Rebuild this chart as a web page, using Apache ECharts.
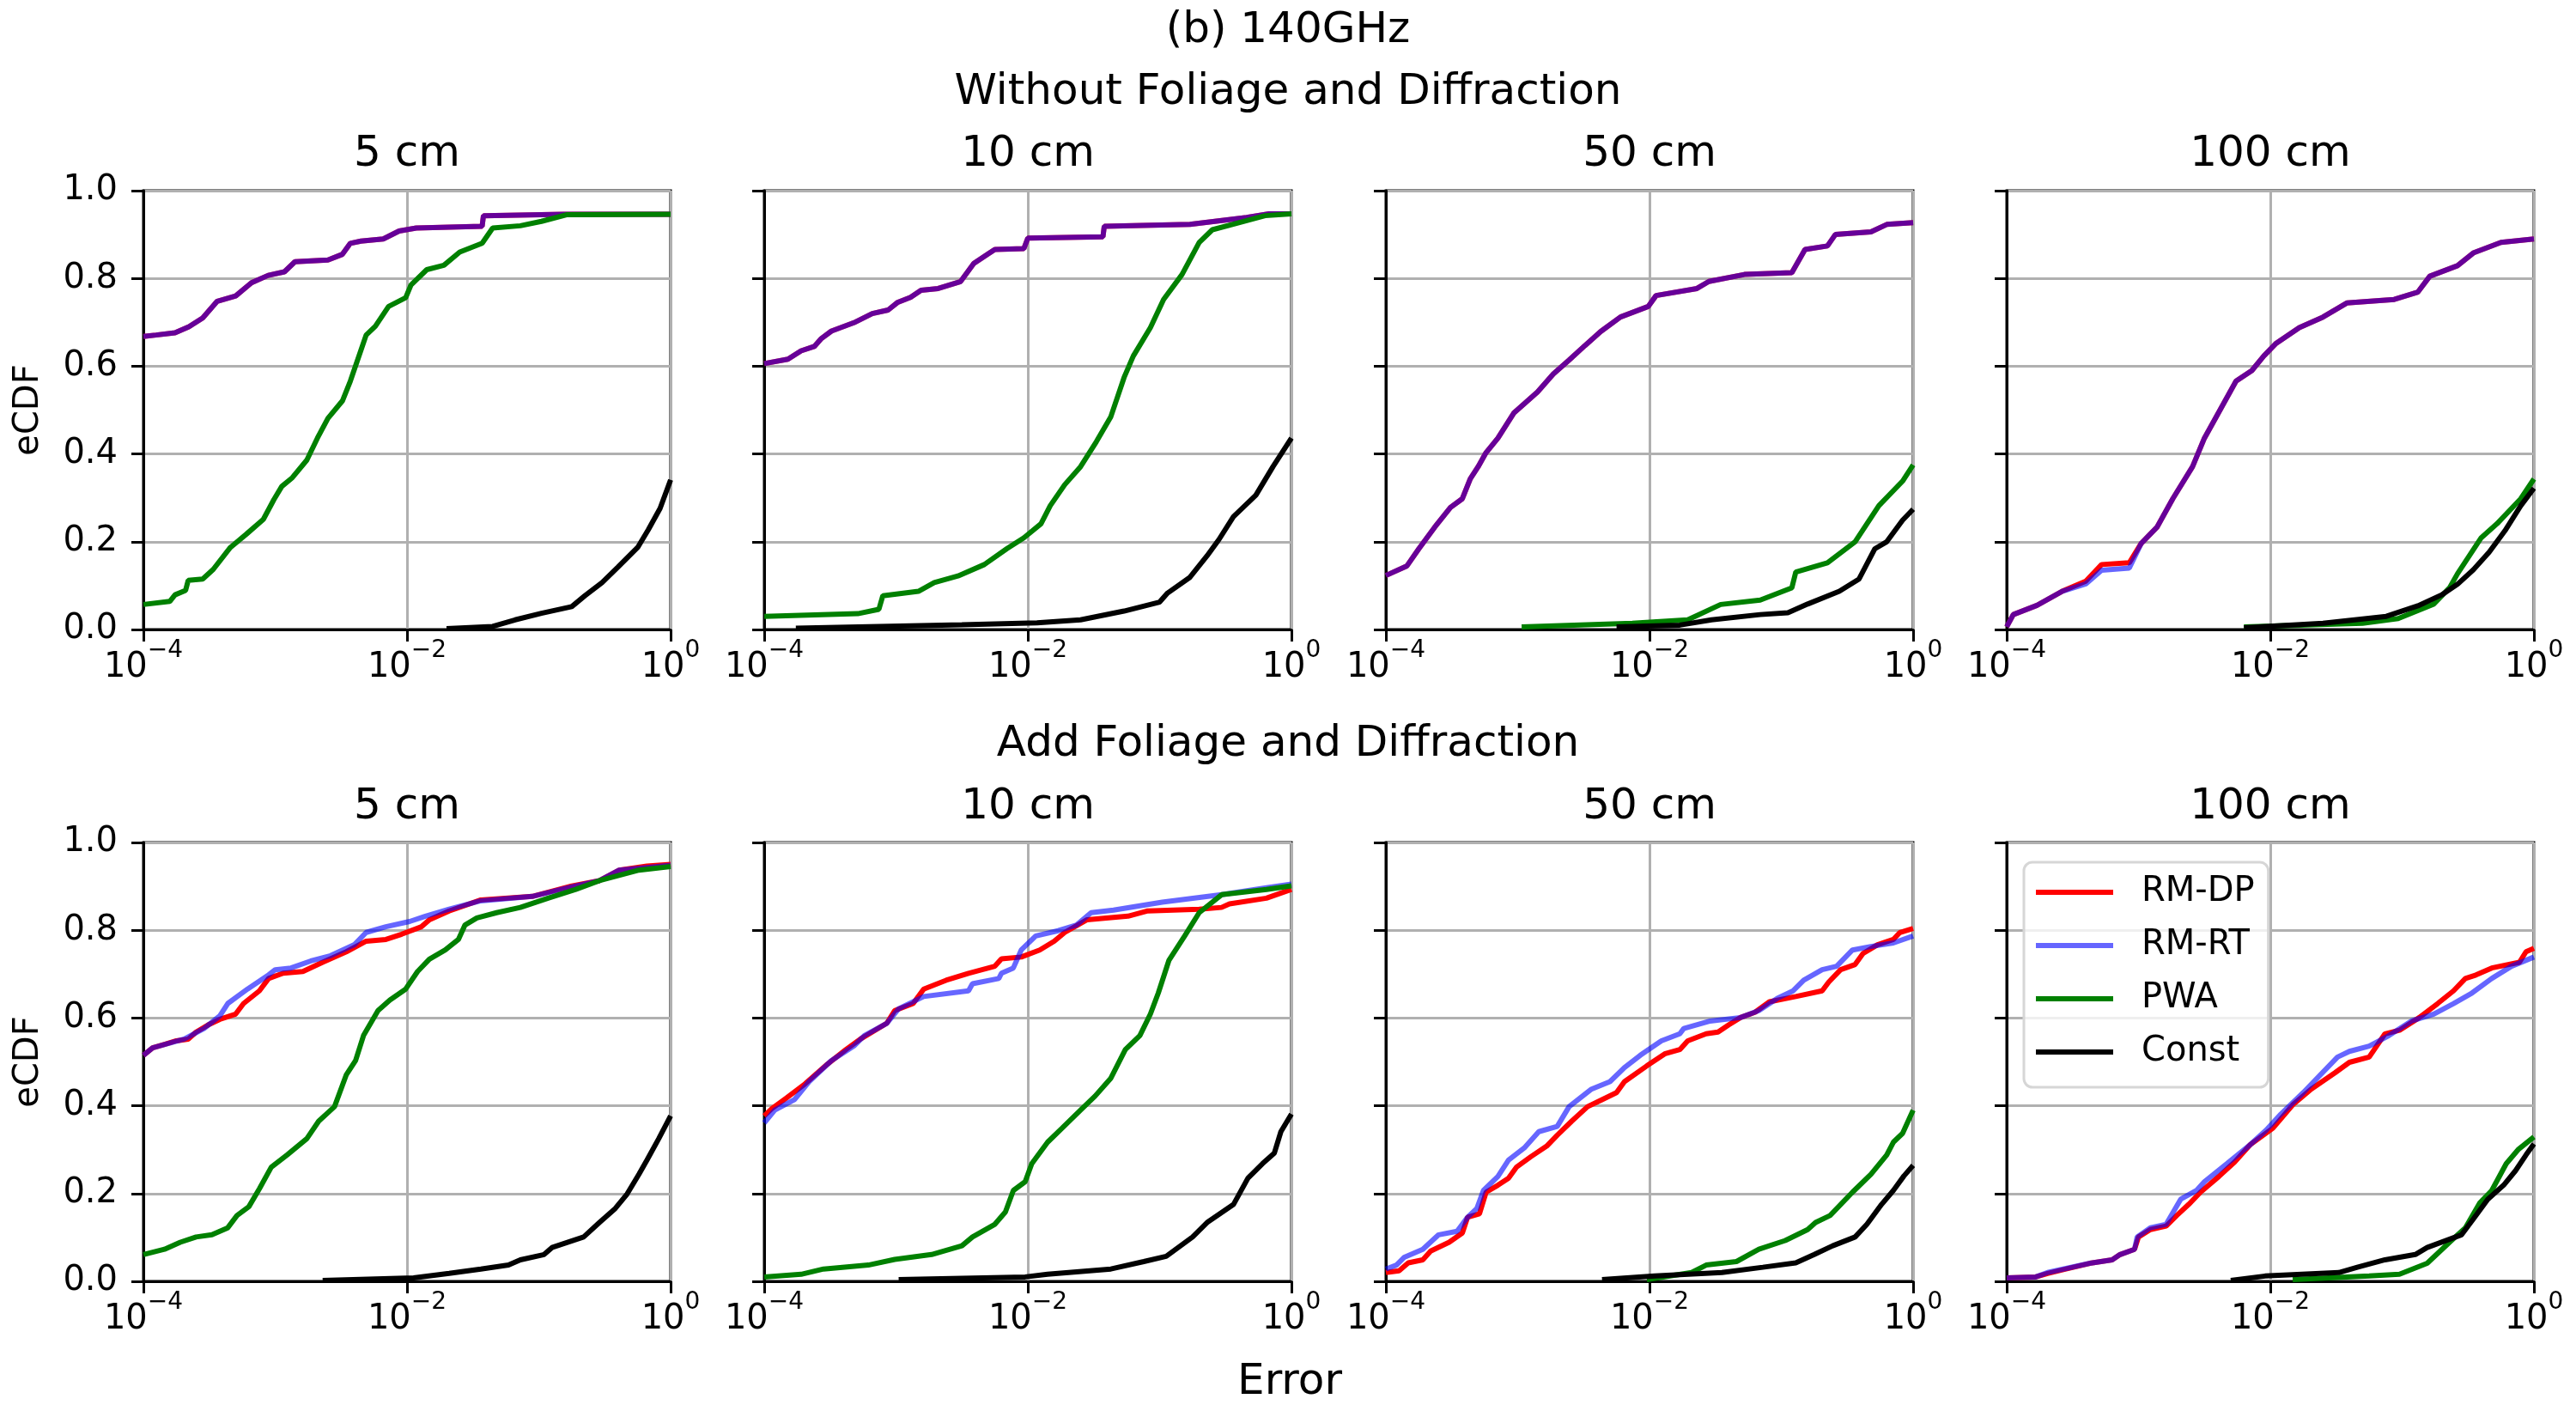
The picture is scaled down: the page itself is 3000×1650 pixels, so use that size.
<!DOCTYPE html>
<html>
<head>
<meta charset="utf-8">
<script src="https://cdn.jsdelivr.net/npm/echarts@6/dist/echarts.min.js"></script>
<style>
  html, body { margin: 0; padding: 0; background: #fff; }
  #chart { width: 3000px; height: 1650px; }
</style>
</head>
<body>
<div id="chart"></div>
<script>
// eCDF curves, points are [log10(error), cdf]
// row A = without foliage and diffraction, row B = add foliage and diffraction
const dpA5 = [[-4,.668],[-3.904,.671],[-3.76,.676],[-3.655,.69],[-3.55,.71],[-3.44,.748],[-3.30,.76],[-3.18,.79],[-3.053,.807],[-2.93,.815],[-2.85,.838],[-2.60,.842],[-2.49,.855],[-2.43,.88],[-2.35,.885],[-2.18,.89],[-2.06,.908],[-1.93,.915],[-1.43,.919],[-1.42,.943],[-0.81,.946],[0,.946]]
const rtA5 = dpA5
const pwaA5 = [[-4,.057],[-3.80,.064],[-3.76,.079],[-3.68,.089],[-3.66,.112],[-3.55,.115],[-3.47,.137],[-3.34,.187],[-3.22,.217],[-3.09,.251],[-3.01,.296],[-2.95,.326],[-2.87,.346],[-2.76,.386],[-2.68,.436],[-2.60,.481],[-2.49,.521],[-2.43,.566],[-2.35,.636],[-2.31,.671],[-2.24,.691],[-2.14,.736],[-2.01,.756],[-1.97,.785],[-1.85,.82],[-1.72,.83],[-1.60,.86],[-1.43,.88],[-1.35,.915],[-1.14,.92],[-0.98,.93],[-0.79,.945],[0,.946]]
const constA5 = [[-1.70,.002],[-1.35,.007],[-1.18,.022],[-0.98,.037],[-0.75,.052],[-0.65,.077],[-0.52,.107],[-0.40,.142],[-0.25,.187],[-0.17,.227],[-0.08,.276],[0,.341]]

const dpA10 = [[-4,.606],[-3.82,.616],[-3.72,.635],[-3.62,.645],[-3.57,.662],[-3.49,.68],[-3.32,.699],[-3.18,.72],[-3.06,.728],[-2.99,.745],[-2.89,.757],[-2.81,.773],[-2.68,.777],[-2.51,.793],[-2.41,.834],[-2.30,.856],[-2.25,.866],[-2.03,.868],[-2.00,.892],[-1.43,.895],[-1.42,.919],[-0.77,.923],[-0.34,.939],[-0.17,.947],[0,.947]]
const rtA10 = dpA10
const pwaA10 = [[-4,.03],[-3.29,.036],[-3.13,.046],[-3.10,.077],[-2.83,.087],[-2.71,.107],[-2.53,.122],[-2.33,.148],[-2.16,.184],[-2.03,.209],[-1.90,.241],[-1.83,.282],[-1.72,.33],[-1.60,.371],[-1.48,.428],[-1.37,.485],[-1.27,.574],[-1.20,.623],[-1.07,.688],[-0.97,.752],[-0.83,.809],[-0.70,.882],[-0.60,.911],[-0.40,.927],[-0.20,.943],[0,.947]]
const constA10 = [[-3.76,.003],[-2.50,.011],[-1.93,.015],[-1.60,.022],[-1.27,.042],[-1.00,.0625],[-0.94,.083],[-0.77,.119],[-0.64,.168],[-0.55,.205],[-0.44,.257],[-0.27,.306],[-0.14,.371],[0,.436]]

const dpA50 = [[-4,.123],[-3.84,.145],[-3.75,.184],[-3.63,.233],[-3.51,.278],[-3.42,.298],[-3.36,.343],[-3.30,.371],[-3.24,.403],[-3.15,.436],[-3.03,.493],[-2.85,.541],[-2.73,.582],[-2.61,.614],[-2.49,.647],[-2.37,.679],[-2.22,.712],[-2.01,.736],[-1.95,.761],[-1.64,.777],[-1.55,.793],[-1.28,.809],[-0.92,.813],[-0.82,.866],[-0.65,.874],[-0.59,.900],[-0.32,.906],[-0.20,.923],[0,.927]]
const rtA50 = dpA50
const pwaA50 = [[-2.97,.006],[-2.13,.014],[-1.71,.022],[-1.46,.057],[-1.16,.067],[-0.92,.095],[-0.89,.131],[-0.65,.152],[-0.44,.2],[-0.26,.282],[-0.08,.338],[0,.375]]
const constA50 = [[-2.25,.006],[-1.77,.010],[-1.53,.022],[-1.16,.034],[-0.95,.038],[-0.80,.058],[-0.56,.087],[-0.41,.115],[-0.29,.184],[-0.20,.2],[-0.08,.249],[0,.274]]

const dpA100 = [[-4,.006],[-3.95,.034],[-3.77,.055],[-3.58,.087],[-3.40,.11],[-3.28,.148],[-3.07,.152],[-2.98,.196],[-2.86,.233],[-2.74,.298],[-2.59,.371],[-2.50,.436],[-2.38,.501],[-2.26,.566],[-2.14,.59],[-2.05,.623],[-1.96,.651],[-1.78,.688],[-1.60,.712],[-1.42,.744],[-1.06,.752],[-0.88,.769],[-0.79,.805],[-0.58,.829],[-0.46,.858],[-0.25,.882],[0,.890]]
const rtA100 = [[-4,.006],[-3.95,.034],[-3.77,.055],[-3.58,.087],[-3.40,.104],[-3.28,.135],[-3.07,.14],[-2.98,.196],[-2.86,.233],[-2.74,.298],[-2.59,.371],[-2.50,.436],[-2.38,.501],[-2.26,.566],[-2.14,.59],[-2.05,.623],[-1.96,.651],[-1.78,.688],[-1.60,.712],[-1.42,.744],[-1.06,.752],[-0.88,.769],[-0.79,.805],[-0.58,.829],[-0.46,.858],[-0.25,.882],[0,.890]]
const pwaA100 = [[-2.20,.006],[-1.30,.014],[-1.03,.025],[-0.76,.058],[-0.64,.095],[-0.58,.127],[-0.40,.209],[-0.28,.241],[-0.10,.298],[0,.343]]
const constA100 = [[-2.20,.004],[-1.60,.014],[-1.12,.03],[-0.88,.054],[-0.70,.079],[-0.58,.103],[-0.46,.136],[-0.34,.176],[-0.22,.225],[-0.10,.282],[0,.322]]

const dpB5 = [[-4,.515],[-3.93,.532],[-3.84,.54],[-3.75,.548],[-3.66,.552],[-3.60,.568],[-3.51,.584],[-3.42,.597],[-3.30,.609],[-3.24,.633],[-3.12,.662],[-3.05,.69],[-2.94,.702],[-2.79,.706],[-2.64,.727],[-2.46,.751],[-2.31,.775],[-2.16,.779],[-2.04,.791],[-1.89,.808],[-1.83,.824],[-1.68,.844],[-1.44,.869],[-1.05,.877],[-0.75,.901],[-0.54,.913],[-0.39,.937],[-0.18,.946],[0,.95]]
const rtB5 = [[-4,.515],[-3.93,.532],[-3.69,.552],[-3.54,.576],[-3.42,.605],[-3.36,.633],[-3.21,.666],[-3.06,.696],[-3.00,.710],[-2.88,.714],[-2.73,.73],[-2.58,.742],[-2.40,.767],[-2.31,.795],[-2.16,.808],[-1.98,.82],[-1.86,.832],[-1.68,.848],[-1.44,.867],[-1.05,.877],[-0.75,.899],[-0.54,.913],[-0.39,.937],[0,.948]]
const pwaB5 = [[-4,.061],[-3.84,.073],[-3.72,.089],[-3.60,.101],[-3.48,.106],[-3.36,.122],[-3.29,.15],[-3.20,.17],[-3.12,.211],[-3.03,.26],[-2.91,.288],[-2.76,.325],[-2.67,.365],[-2.55,.398],[-2.46,.471],[-2.39,.503],[-2.33,.56],[-2.22,.617],[-2.13,.641],[-2.01,.666],[-1.92,.706],[-1.83,.734],[-1.71,.755],[-1.61,.779],[-1.56,.812],[-1.47,.828],[-1.32,.84],[-1.14,.852],[-0.93,.873],[-0.72,.893],[-0.54,.913],[-0.24,.937],[0,.945]]
const constB5 = [[-2.64,.002],[-1.95,.008],[-1.68,.018],[-1.44,.028],[-1.23,.037],[-1.14,.049],[-0.96,.061],[-0.90,.077],[-0.66,.101],[-0.54,.134],[-0.42,.166],[-0.33,.199],[-0.24,.244],[-0.18,.276],[-0.09,.325],[0,.377]]

const dpB10 = [[-4,.377],[-3.94,.394],[-3.83,.418],[-3.69,.45],[-3.52,.495],[-3.38,.528],[-3.27,.552],[-3.07,.588],[-3.01,.617],[-2.87,.633],[-2.79,.666],[-2.62,.686],[-2.45,.702],[-2.25,.718],[-2.20,.735],[-2.05,.739],[-1.91,.755],[-1.80,.775],[-1.72,.795],[-1.55,.824],[-1.24,.832],[-1.09,.844],[-0.70,.848],[-0.53,.852],[-0.47,.86],[-0.19,.873],[0,.893]]
const rtB10 = [[-4,.361],[-3.92,.39],[-3.77,.414],[-3.66,.455],[-3.49,.503],[-3.32,.536],[-3.24,.56],[-3.07,.588],[-2.98,.621],[-2.79,.649],[-2.45,.662],[-2.42,.678],[-2.22,.69],[-2.20,.702],[-2.11,.714],[-2.05,.755],[-1.94,.787],[-1.77,.799],[-1.63,.812],[-1.52,.84],[-1.35,.846],[-0.98,.864],[-0.53,.881],[-0.19,.897],[0,.905]]
const pwaB10 = [[-4,.01],[-3.72,.016],[-3.55,.028],[-3.21,.037],[-3.01,.05],[-2.73,.061],[-2.50,.081],[-2.42,.101],[-2.25,.13],[-2.17,.158],[-2.11,.207],[-2.02,.227],[-1.97,.268],[-1.85,.317],[-1.74,.349],[-1.60,.39],[-1.49,.422],[-1.37,.463],[-1.26,.528],[-1.15,.56],[-1.07,.609],[-1.01,.657],[-0.93,.731],[-0.81,.787],[-0.70,.84],[-0.53,.881],[-0.19,.893],[0,.901]]
const constB10 = [[-2.98,.004],[-2.02,.01],[-1.85,.016],[-1.37,.028],[-1.12,.045],[-0.95,.057],[-0.75,.101],[-0.64,.134],[-0.44,.175],[-0.33,.235],[-0.22,.268],[-0.13,.292],[-0.08,.341],[0,.381]]

const dpB50 = [[-4,.02],[-3.90,.024],[-3.83,.042],[-3.72,.049],[-3.66,.069],[-3.52,.089],[-3.42,.11],[-3.38,.146],[-3.29,.154],[-3.24,.203],[-3.15,.219],[-3.07,.235],[-3.01,.26],[-2.90,.284],[-2.78,.308],[-2.70,.333],[-2.59,.365],[-2.47,.398],[-2.36,.414],[-2.25,.43],[-2.19,.455],[-2.02,.491],[-1.88,.519],[-1.77,.528],[-1.71,.548],[-1.57,.564],[-1.48,.568],[-1.40,.584],[-1.31,.601],[-1.20,.613],[-1.09,.637],[-0.89,.649],[-0.69,.662],[-0.64,.682],[-0.55,.71],[-0.44,.722],[-0.38,.747],[-0.27,.767],[-0.15,.779],[-0.10,.795],[0,.804]]
const rtB50 = [[-4,.028],[-3.92,.037],[-3.86,.055],[-3.72,.073],[-3.60,.106],[-3.46,.114],[-3.38,.146],[-3.31,.166],[-3.26,.207],[-3.15,.239],[-3.07,.276],[-2.95,.304],[-2.84,.341],[-2.70,.353],[-2.61,.398],[-2.44,.438],[-2.30,.455],[-2.19,.487],[-2.07,.515],[-1.91,.548],[-1.77,.564],[-1.74,.576],[-1.54,.593],[-1.31,.601],[-1.17,.617],[-1.03,.645],[-0.91,.662],[-0.83,.686],[-0.69,.71],[-0.58,.718],[-0.46,.755],[-0.32,.763],[-0.15,.771],[0,.787]]
const pwaB50 = [[-2.02,.004],[-1.68,.02],[-1.57,.037],[-1.34,.045],[-1.17,.073],[-0.97,.093],[-0.80,.118],[-0.74,.134],[-0.63,.15],[-0.46,.203],[-0.32,.244],[-0.20,.288],[-0.15,.317],[-0.08,.337],[0,.39]]
const constB50 = [[-2.36,.004],[-1.96,.012],[-1.45,.02],[-1.14,.032],[-0.89,.042],[-0.75,.061],[-0.61,.081],[-0.44,.101],[-0.35,.13],[-0.24,.175],[-0.15,.207],[-0.07,.24],[0,.264]]

const dpB100 = [[-4,.008],[-3.78,.01],[-3.69,.018],[-3.55,.028],[-3.37,.041],[-3.20,.049],[-3.14,.061],[-3.03,.073],[-3.00,.101],[-2.91,.118],[-2.79,.126],[-2.71,.15],[-2.62,.175],[-2.53,.203],[-2.39,.239],[-2.27,.272],[-2.15,.312],[-1.98,.349],[-1.83,.402],[-1.69,.438],[-1.51,.475],[-1.40,.499],[-1.25,.511],[-1.13,.564],[-1.02,.572],[-0.87,.601],[-0.73,.633],[-0.61,.662],[-0.52,.69],[-0.44,.698],[-0.32,.714],[-0.11,.727],[-0.06,.751],[0,.759]]
const rtB100 = [[-4,.008],[-3.78,.01],[-3.69,.02],[-3.37,.041],[-3.20,.049],[-3.14,.061],[-3.03,.073],[-3.01,.101],[-2.91,.122],[-2.79,.13],[-2.68,.187],[-2.56,.207],[-2.50,.227],[-2.33,.268],[-2.15,.312],[-2.03,.345],[-1.92,.381],[-1.75,.43],[-1.49,.511],[-1.40,.524],[-1.25,.536],[-1.10,.56],[-0.93,.593],[-0.76,.609],[-0.61,.633],[-0.47,.657],[-0.32,.69],[-0.17,.718],[0,.739]]
const pwaB100 = [[-1.83,.004],[-1.25,.012],[-1.02,.016],[-0.81,.041],[-0.64,.089],[-0.52,.122],[-0.41,.179],[-0.32,.207],[-0.21,.268],[-0.12,.3],[0,.329]]
const constB100 = [[-2.30,.002],[-2.04,.012],[-1.48,.02],[-1.34,.032],[-1.13,.049],[-0.90,.061],[-0.81,.077],[-0.55,.106],[-0.46,.142],[-0.35,.187],[-0.23,.219],[-0.14,.252],[-0.06,.288],[0,.313]]

const panelTitles = ['5 cm', '10 cm', '50 cm', '100 cm']
const rowTitles = ['Without Foliage and Diffraction', 'Add Foliage and Diffraction']
const seriesNames = ['RM-DP', 'RM-RT', 'PWA', 'Const']
const seriesColors = ['#ff0000', 'rgba(0,0,255,0.6)', '#008000', '#000000']
const xTickExp = [-4, -2, 0]
const yTicks = [0, 0.2, 0.4, 0.6, 0.8, 1.0]

// panel order: row A then row B, each 5/10/50/100 cm
const panels = [
  [dpA5, rtA5, pwaA5, constA5], [dpA10, rtA10, pwaA10, constA10],
  [dpA50, rtA50, pwaA50, constA50], [dpA100, rtA100, pwaA100, constA100],
  [dpB5, rtB5, pwaB5, constB5], [dpB10, rtB10, pwaB10, constB10],
  [dpB50, rtB50, pwaB50, constB50], [dpB100, rtB100, pwaB100, constB100]
]

const FONT = 'DejaVu Sans'
const colX = [167, 890, 1614, 2337]
const rowY = [222, 981]
const W = 614, H = 511

const chart = echarts.init(document.getElementById('chart'), null, { renderer: 'canvas', devicePixelRatio: 1 })

const grid = [], xAxis = [], yAxis = []
const series = []

panels.forEach((curves, i) => {
  const r = Math.floor(i / 4), c = i % 4
  grid.push({ left: colX[c], top: rowY[r], width: W, height: H, show: true, borderColor: '#000', borderWidth: 3, backgroundColor: 'transparent' })
  xAxis.push({
    type: 'log', logBase: 10, gridIndex: i,
    min: Math.pow(10, xTickExp[0]), max: Math.pow(10, xTickExp[xTickExp.length - 1]), interval: 2,
    axisLine: { show: true, onZero: false, lineStyle: { color: '#000', width: 3 } },
    axisTick: { show: true, length: 14, lineStyle: { color: '#000', width: 3 } },
    axisLabel: {
      margin: 11, color: '#000',
      formatter: v => {
        const e = Math.round(Math.log10(v))
        return '{b|10}{e|' + String(e).replace('-', '\u2212') + '}'
      },
      rich: {
        b: { fontFamily: FONT, fontSize: 40, lineHeight: 54, color: '#000', verticalAlign: 'bottom' },
        e: { fontFamily: FONT, fontSize: 28, lineHeight: 28, color: '#000', verticalAlign: 'top' }
      }
    },
    splitLine: { show: true, lineStyle: { color: '#b0b0b0', width: 3 } },
    minorTick: { show: false }
  })
  yAxis.push({
    type: 'value', gridIndex: i, min: yTicks[0], max: yTicks[yTicks.length - 1], interval: 0.2,
    axisLine: { show: true, onZero: false, lineStyle: { color: '#000', width: 3 } },
    axisTick: { show: true, length: 14, lineStyle: { color: '#000', width: 3 } },
    axisLabel: { show: c === 0, margin: 30, color: '#000', fontFamily: FONT, fontSize: 40, formatter: v => v.toFixed(1) },
    splitLine: { show: true, lineStyle: { color: '#b0b0b0', width: 3 } }
  })
  curves.forEach((pts, k) => {
    series.push({
      name: seriesNames[k], type: 'line', xAxisIndex: i, yAxisIndex: i,
      data: pts.map(p => [Math.pow(10, p[0]), p[1]]),
      showSymbol: false, symbol: 'none', clip: true,
      color: seriesColors[k],
      lineStyle: { color: seriesColors[k], width: 6 },
      itemStyle: { color: seriesColors[k] }
    })
  })
})

const texts = []
const addText = (txt, x, y, size, rot) => texts.push({
  type: 'text', x: x, y: y, rotation: rot || 0,
  style: { text: txt, fontFamily: FONT, fontSize: size, fill: '#000', textAlign: 'center', textVerticalAlign: 'middle' }
})
addText('(b) 140GHz', 1500, 36, 50)
addText(rowTitles[0], 1500, 108, 50)
addText(rowTitles[1], 1500, 867, 50)
panelTitles.forEach((t, c) => {
  addText(t, colX[c] + W / 2, 180, 50)
  addText(t, colX[c] + W / 2, 940, 50)
})
addText('eCDF', 34, rowY[0] + H / 2, 40, Math.PI / 2)
addText('eCDF', 34, rowY[1] + H / 2, 40, Math.PI / 2)
addText('Error', 1502, 1610, 50)

chart.setOption({
  animation: false,
  backgroundColor: '#ffffff',
  grid: grid,
  xAxis: xAxis,
  yAxis: yAxis,
  series: series,
  legend: {
    data: seriesNames,
    orient: 'vertical',
    left: 2357, top: 1004,
    icon: 'rect', itemWidth: 90, itemHeight: 6, itemGap: 0,
    padding: [4, 16, 10, 14],
    backgroundColor: 'rgba(255,255,255,0.8)',
    borderColor: '#d6d6d6', borderWidth: 3, borderRadius: 10,
    textStyle: { fontFamily: FONT, fontSize: 40, color: '#000', lineHeight: 62, padding: [0, 0, 0, 28] },
    selectedMode: false
  },
  graphic: texts
})
</script>
</body>
</html>
